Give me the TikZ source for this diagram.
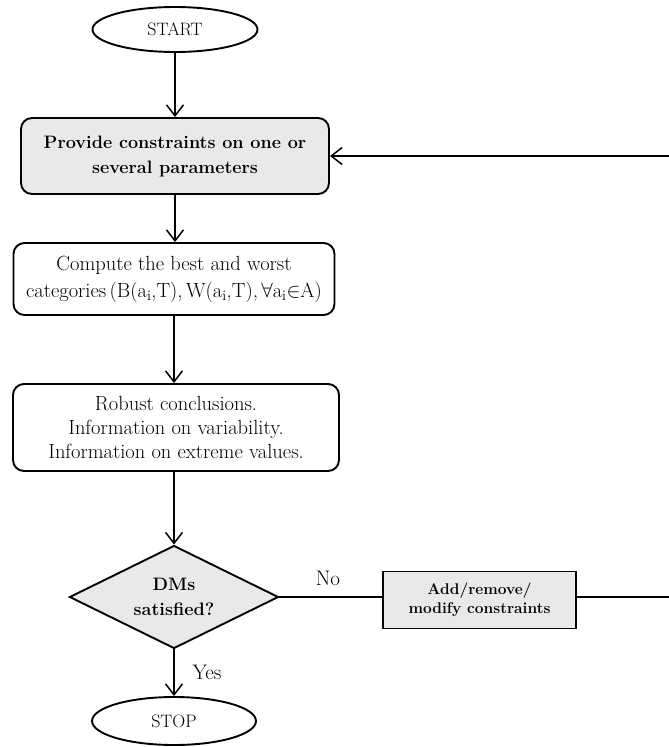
\documentclass[tikz,border=0pt]{standalone}
\usetikzlibrary{shapes.geometric,arrows.meta}
\definecolor{boxfill}{RGB}{233,233,233}
\begin{document}
\begin{tikzpicture}[x=1pt,y=-1pt,line width=1.9pt,
    flow/.style={-{Straight Barb[length=11pt,width=17pt,line width=1.5pt]}},
    terminal/.style={draw,ellipse,inner sep=0pt,font=\fontsize{18}{21}\selectfont},
    process/.style={draw,rectangle,rounded corners=11pt,inner sep=0pt,align=center,
      font=\fontsize{20.5}{24}\selectfont},
    lbl/.style={font=\fontsize{21}{24}\selectfont}]
  \useasboundingbox (0,0) rectangle (669,747);

  \node[terminal,minimum width=165pt,minimum height=45pt] (start) at (175,29.5) {START};
  \node[process,fill=boxfill,minimum width=308pt,minimum height=76pt,
        font=\fontsize{18}{25}\selectfont\bfseries] (provide) at (175,156)
        {Provide constraints on one or\\several parameters};
  \node[process,minimum width=321pt,minimum height=72pt] (compute) at (174,279)
        {Compute the best and worst\\[3pt]
         categories\,(B(a\textsubscript{i},T),\,W(a\textsubscript{i},T),\,$\forall$a\textsubscript{i}$\in$A)};
  \node[process,minimum width=326pt,minimum height=87pt] (robust) at (176,427.5)
        {Robust conclusions.\\Information on variability.\\Information on extreme values.};
  \node[draw,diamond,fill=boxfill,inner sep=0pt,shape aspect=2,
        minimum width=209pt,minimum height=103pt,align=center,
        font=\fontsize{18}{25}\selectfont\bfseries] (dms) at (174,597)
        {DMs\\satisfied?};
  \node[draw,rectangle,fill=boxfill,inner sep=0pt,minimum width=193pt,minimum height=57pt,
        align=center,font=\fontsize{15.5}{19}\selectfont\bfseries] (modify) at (479.5,600)
        {Add/remove/\\modify constraints};
  \node[terminal,minimum width=164pt,minimum height=48pt] (stop) at (174,721) {STOP};
  \node[lbl] (no) at (328,578) {No};
  \node[lbl] (yes) at (207,672) {Yes};
  \coordinate (back) at (672,597);

  \draw[flow] (start) -- (provide);
  \draw[flow] (provide) -- (compute.north -| provide.south);
  \draw[flow] (compute) -- (robust.north -| compute.south);
  \draw[flow] (robust.south -| compute.south) -- (dms);
  \draw[flow] (dms) -- (stop);
  \draw (dms.east) -- (dms.east -| modify.west);
  \draw[flow] (modify.east |- back) -- (back) |- (provide.east);
\end{tikzpicture}
\end{document}
